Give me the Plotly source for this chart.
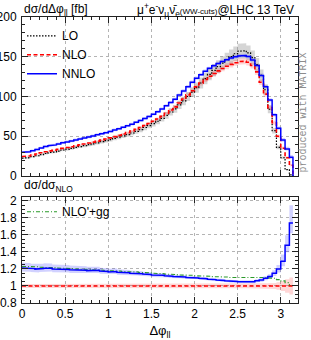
import numpy as np
import plotly.graph_objects as go

# ---------------- data ----------------
BIN_EDGES = [round(0.05 * i, 2) for i in range(63)] + [float(np.pi)]

LO = [22.5, 23.1, 24.3, 25.5, 27.0, 28.3, 29.4, 30.3, 31.4, 32.7,
      33.7, 34.7, 35.9, 37.0, 38.1, 39.4, 40.5, 41.7, 43.2, 44.5,
      45.8, 47.3, 48.8, 50.4, 52.1, 54.1, 56.1, 58.3, 61.0, 63.4,
      66.0, 68.9, 72.4, 76.2, 80.5, 84.4, 89.5, 94.4, 100.0, 105.6,
      111.1, 117.0, 122.6, 127.9, 132.9, 137.6, 142.1, 146.3, 150.2, 153.8,
      156.9, 157.6, 155.0, 149.0, 140.0, 126.5, 108.5, 84.0, 57.0, 36.0,
      23.0, 8.0, 1.5]

NLO = [24.6, 25.3, 26.4, 27.7, 29.2, 30.6, 31.6, 32.6, 33.6, 34.8,
       35.9, 36.9, 38.0, 39.2, 40.3, 41.5, 42.6, 43.9, 45.2, 46.6,
       48.0, 49.5, 51.1, 52.8, 54.6, 56.6, 58.7, 61.0, 63.5, 66.0,
       68.8, 71.8, 75.0, 79.0, 83.0, 87.0, 91.8, 96.8, 102.0, 107.2,
       112.2, 117.0, 121.4, 125.4, 129.0, 132.3, 135.3, 138.0, 140.4, 142.4,
       143.9, 144.4, 143.0, 139.0, 131.0, 118.0, 103.0, 86.0, 67.0, 50.0,
       35.0, 23.0, 13.5]

NNLO = [29.8, 30.6, 31.8, 33.2, 35.2, 37.0, 38.2, 39.1, 40.2, 41.8,
        42.9, 43.9, 45.2, 46.5, 47.8, 49.0, 50.3, 52.0, 53.1, 54.5,
        55.9, 57.9, 59.3, 61.2, 63.1, 65.1, 67.5, 69.8, 72.4, 74.9,
        77.7, 80.8, 84.4, 88.5, 92.5, 96.6, 101.9, 107.0, 112.2, 117.9,
        122.9, 127.5, 131.7, 135.4, 138.7, 141.6, 144.1, 146.3, 148.3, 149.9,
        151.1, 151.6, 150.2, 146.0, 138.9, 126.3, 112.3, 95.5, 77.1, 60.0,
        45.2, 34.0, 23.5]

NLOGG_RATIO = [1.23, 1.23, 1.225, 1.225, 1.22, 1.22, 1.22, 1.215, 1.21, 1.21,
               1.205, 1.205, 1.20, 1.20, 1.195, 1.195, 1.19, 1.19, 1.185, 1.18,
               1.18, 1.175, 1.175, 1.17, 1.17, 1.165, 1.165, 1.16, 1.155, 1.155,
               1.15, 1.15, 1.145, 1.14, 1.14, 1.135, 1.13, 1.13, 1.125, 1.125,
               1.12, 1.12, 1.115, 1.115, 1.11, 1.11, 1.105, 1.105, 1.10, 1.10,
               1.10, 1.10, 1.10, 1.105, 1.10, 1.10, 1.10, 1.095, 1.09, 1.075,
               1.06, 1.04, 1.005]

# relative scale uncertainties
LO_UNC = [0.045, 0.045, 0.045, 0.046, 0.046, 0.046, 0.047, 0.047, 0.047, 0.048,
          0.048, 0.048, 0.049, 0.049, 0.049, 0.050, 0.050, 0.050, 0.051, 0.051,
          0.051, 0.052, 0.052, 0.052, 0.053, 0.053, 0.053, 0.054, 0.054, 0.054,
          0.055, 0.055, 0.055, 0.056, 0.056, 0.056, 0.057, 0.057, 0.057, 0.058,
          0.058, 0.058, 0.058, 0.059, 0.059, 0.059, 0.059, 0.060, 0.060, 0.060,
          0.060, 0.060, 0.060, 0.060, 0.060, 0.060, 0.061, 0.061, 0.062, 0.062,
          0.063, 0.064, 0.065]

NLO_UNC = [0.024, 0.024, 0.024, 0.024, 0.024, 0.025, 0.025, 0.025, 0.025, 0.025,
           0.025, 0.025, 0.025, 0.025, 0.025, 0.025, 0.025, 0.025, 0.025, 0.025,
           0.025, 0.025, 0.025, 0.025, 0.025, 0.025, 0.025, 0.025, 0.025, 0.025,
           0.025, 0.025, 0.025, 0.025, 0.025, 0.026, 0.026, 0.026, 0.026, 0.026,
           0.026, 0.026, 0.026, 0.026, 0.026, 0.026, 0.026, 0.027, 0.027, 0.027,
           0.027, 0.027, 0.028, 0.028, 0.029, 0.030, 0.031, 0.033, 0.036, 0.045,
           0.060, 0.080, 0.100]

NNLO_UP = [0.050, 0.050, 0.048, 0.048, 0.047, 0.047, 0.046, 0.045, 0.045, 0.044,
           0.043, 0.042, 0.041, 0.040, 0.039, 0.038, 0.037, 0.036, 0.035, 0.034,
           0.033, 0.032, 0.031, 0.030, 0.029, 0.028, 0.027, 0.026, 0.025, 0.024,
           0.023, 0.022, 0.022, 0.021, 0.021, 0.020, 0.020, 0.019, 0.019, 0.018,
           0.018, 0.017, 0.017, 0.016, 0.016, 0.016, 0.015, 0.015, 0.015, 0.015,
           0.015, 0.015, 0.016, 0.017, 0.018, 0.020, 0.022, 0.025, 0.030, 0.040,
           0.060, 0.080, 0.120]

NNLO_DN = [0.035, 0.035, 0.034, 0.034, 0.033, 0.033, 0.033, 0.032, 0.032, 0.031,
           0.031, 0.030, 0.030, 0.029, 0.029, 0.028, 0.028, 0.027, 0.027, 0.026,
           0.026, 0.025, 0.025, 0.024, 0.024, 0.023, 0.023, 0.022, 0.022, 0.021,
           0.021, 0.020, 0.020, 0.019, 0.019, 0.018, 0.018, 0.017, 0.017, 0.016,
           0.016, 0.016, 0.015, 0.015, 0.015, 0.015, 0.014, 0.014, 0.014, 0.014,
           0.014, 0.014, 0.015, 0.016, 0.017, 0.018, 0.020, 0.022, 0.028, 0.035,
           0.045, 0.055, 0.070]

X_TICKS = [0, 0.5, 1, 1.5, 2, 2.5, 3]
Y_TICKS_TOP = [0, 50, 100, 150, 200]
Y_TICKS_RATIO = [0.8, 1, 1.2, 1.4, 1.6, 1.8, 2]

# ---------------- helpers ----------------
edges = np.array(BIN_EDGES)


def step_xy(vals, drop_end=False):
    xs, ys = [], []
    for i, v in enumerate(vals):
        xs += [edges[i], edges[i + 1]]
        ys += [v, v]
    if drop_end:
        xs.append(edges[-1])
        ys.append(0.0)
    return xs, ys


def band_xy(lo, hi):
    xl, yl = step_xy(lo)
    xh, yh = step_xy(hi)
    return xh + xl[::-1], yh + yl[::-1]


lo = np.array(LO)
nlo = np.array(NLO)
nnlo = np.array(NNLO)
lo_u = np.array(LO_UNC)
nlo_u = np.array(NLO_UNC)
nn_up = np.array(NNLO_UP)
nn_dn = np.array(NNLO_DN)

r_nnlo = nnlo / nlo
r_gg = np.array(NLOGG_RATIO)

FONT = "Liberation Sans"
C_LO, C_NLO, C_NNLO, C_GG = "#000000", "#ff0000", "#0000ff", "#2a9a2a"
B_LO, B_NLO, B_NNLO = "rgba(150,150,150,0.40)", "rgba(255,0,0,0.16)", "rgba(0,0,255,0.18)"
DASH_LO, DASH_NLO, DASH_GG = "1.5px,1.5px", "4px,2.5px", "4px,2px,1px,2px"

fig = go.Figure()

# ---- top panel bands ----
for cen, up, dn, col in [(lo, lo_u, lo_u, B_LO), (nlo, nlo_u, nlo_u, B_NLO),
                         (nnlo, nn_up, nn_dn, B_NNLO)]:
    bx, by = band_xy(list(cen * (1 - dn)), list(cen * (1 + up)))
    fig.add_trace(go.Scatter(x=bx, y=by, fill="toself", fillcolor=col, mode="lines",
                             line=dict(width=0), hoverinfo="skip", showlegend=False,
                             xaxis="x", yaxis="y"))

# ---- top panel lines ----
for cen, name, col, dash, w in [(lo, "LO", C_LO, DASH_LO, 1.2),
                                (nlo, "NLO", C_NLO, DASH_NLO, 1.6),
                                (nnlo, "NNLO", C_NNLO, "solid", 1.5)]:
    sx, sy = step_xy(list(cen), drop_end=True)
    fig.add_trace(go.Scatter(x=sx, y=sy, mode="lines", name=name,
                             line=dict(color=col, dash=dash, width=w),
                             xaxis="x", yaxis="y", legend="legend"))

# ---- ratio panel bands ----
bx, by = band_xy(list(1 - nlo_u), list(1 + nlo_u))
fig.add_trace(go.Scatter(x=bx, y=by, fill="toself", fillcolor=B_NLO, mode="lines",
                         line=dict(width=0), hoverinfo="skip", showlegend=False,
                         xaxis="x2", yaxis="y2"))
bx, by = band_xy(list(nnlo * (1 - nn_dn) / nlo), list(nnlo * (1 + nn_up) / nlo))
fig.add_trace(go.Scatter(x=bx, y=by, fill="toself", fillcolor=B_NNLO, mode="lines",
                         line=dict(width=0), hoverinfo="skip", showlegend=False,
                         xaxis="x2", yaxis="y2"))

# ---- ratio panel lines ----
sx, sy = step_xy(list(r_gg))
fig.add_trace(go.Scatter(x=sx, y=sy, mode="lines", name="NLO'+gg",
                         line=dict(color=C_GG, dash=DASH_GG, width=1.1),
                         xaxis="x2", yaxis="y2", legend="legend2"))
sx, sy = step_xy(list(nlo / nlo))
fig.add_trace(go.Scatter(x=sx, y=sy, mode="lines", showlegend=False,
                         line=dict(color=C_NLO, dash=DASH_NLO, width=1.6),
                         xaxis="x2", yaxis="y2"))
sx, sy = step_xy(list(r_nnlo))
fig.add_trace(go.Scatter(x=sx, y=sy, mode="lines", showlegend=False,
                         line=dict(color=C_NNLO, width=1.5),
                         xaxis="x2", yaxis="y2"))

axis_common = dict(showline=True, linecolor="#222222", linewidth=1, mirror="allticks",
                   ticks="inside", tickcolor="#222222", showgrid=True, automargin=False,
                   gridcolor="#b4b4b4", griddash="dot", gridwidth=1, zeroline=False,
                   tickfont=dict(family=FONT, size=12, color="#000000"))

fig.update_layout(
    width=311, height=340,
    margin=dict(l=22, r=13, t=17, b=37, autoexpand=False),
    paper_bgcolor="white", plot_bgcolor="white",
    font=dict(family=FONT, size=12, color="#000000"),
    xaxis=dict(domain=[0, 1], range=[0, 3.2], anchor="y", tickvals=X_TICKS,
               showticklabels=False, ticklen=6,
               minor=dict(ticks="inside", ticklen=3, dtick=0.1, tick0=0, showgrid=False),
               **axis_common),
    yaxis=dict(domain=[0.444, 1], range=[0, 200], anchor="x", tickvals=Y_TICKS_TOP,
               ticklen=6, ticklabelstandoff=2,
               minor=dict(ticks="inside", ticklen=3, dtick=10, tick0=0, showgrid=False),
               **axis_common),
    xaxis2=dict(domain=[0, 1], range=[0, 3.2], anchor="y2", tickvals=X_TICKS,
                ticklen=6,
                minor=dict(ticks="inside", ticklen=3, dtick=0.1, tick0=0, showgrid=False),
                title=dict(text="Δφ<sub>ll</sub>", font=dict(family=FONT, size=13), standoff=6),
                **axis_common),
    yaxis2=dict(domain=[0, 0.3717], range=[0.8, 2.05], anchor="x2", tickvals=Y_TICKS_RATIO,
                ticklen=6, ticklabelstandoff=2,
                minor=dict(ticks="inside", ticklen=3, dtick=0.05, tick0=0.8, showgrid=False),
                **axis_common),
    legend=dict(x=0.0, y=0.985, xanchor="left", yanchor="top", bgcolor="rgba(0,0,0,0)",
                font=dict(family=FONT, size=12), tracegroupgap=0, itemwidth=30),
    legend2=dict(x=0.0, y=0.37, xanchor="left", yanchor="top", bgcolor="rgba(0,0,0,0)",
                 font=dict(family=FONT, size=12), itemwidth=30),
    annotations=[
        dict(text="dσ/dΔφ<sub>ll</sub> [fb]", xref="paper", yref="paper", x=0.0, y=1.025,
             xanchor="left", yanchor="middle", showarrow=False,
             font=dict(family=FONT, size=12)),
        dict(text="μ<sup>+</sup>e<sup>-</sup>ν<sub>μ</sub>ν̄<sub>e</sub>"
                  "<span style='font-size:8px'>(WW-cuts)</span>@LHC 13 TeV",
             xref="paper", yref="paper", x=0.991, y=1.025,
             xanchor="right", yanchor="middle", showarrow=False,
             font=dict(family=FONT, size=12)),
        dict(text="dσ/dσ<sub>NLO</sub>", xref="paper", yref="paper", x=0.0, y=0.409,
             xanchor="left", yanchor="middle", showarrow=False,
             font=dict(family=FONT, size=12)),
        dict(text="produced with MATRIX", xref="paper", yref="paper", x=1.02, y=0.664,
             xanchor="center", yanchor="middle", textangle=-90, showarrow=False,
             font=dict(family="Liberation Mono", size=10, color="#8c8c8c")),
    ],
)

fig.write_html("out.html", config={"displayModeBar": False},
               post_script="document.body.style.margin='0';document.body.style.overflow='hidden';")
